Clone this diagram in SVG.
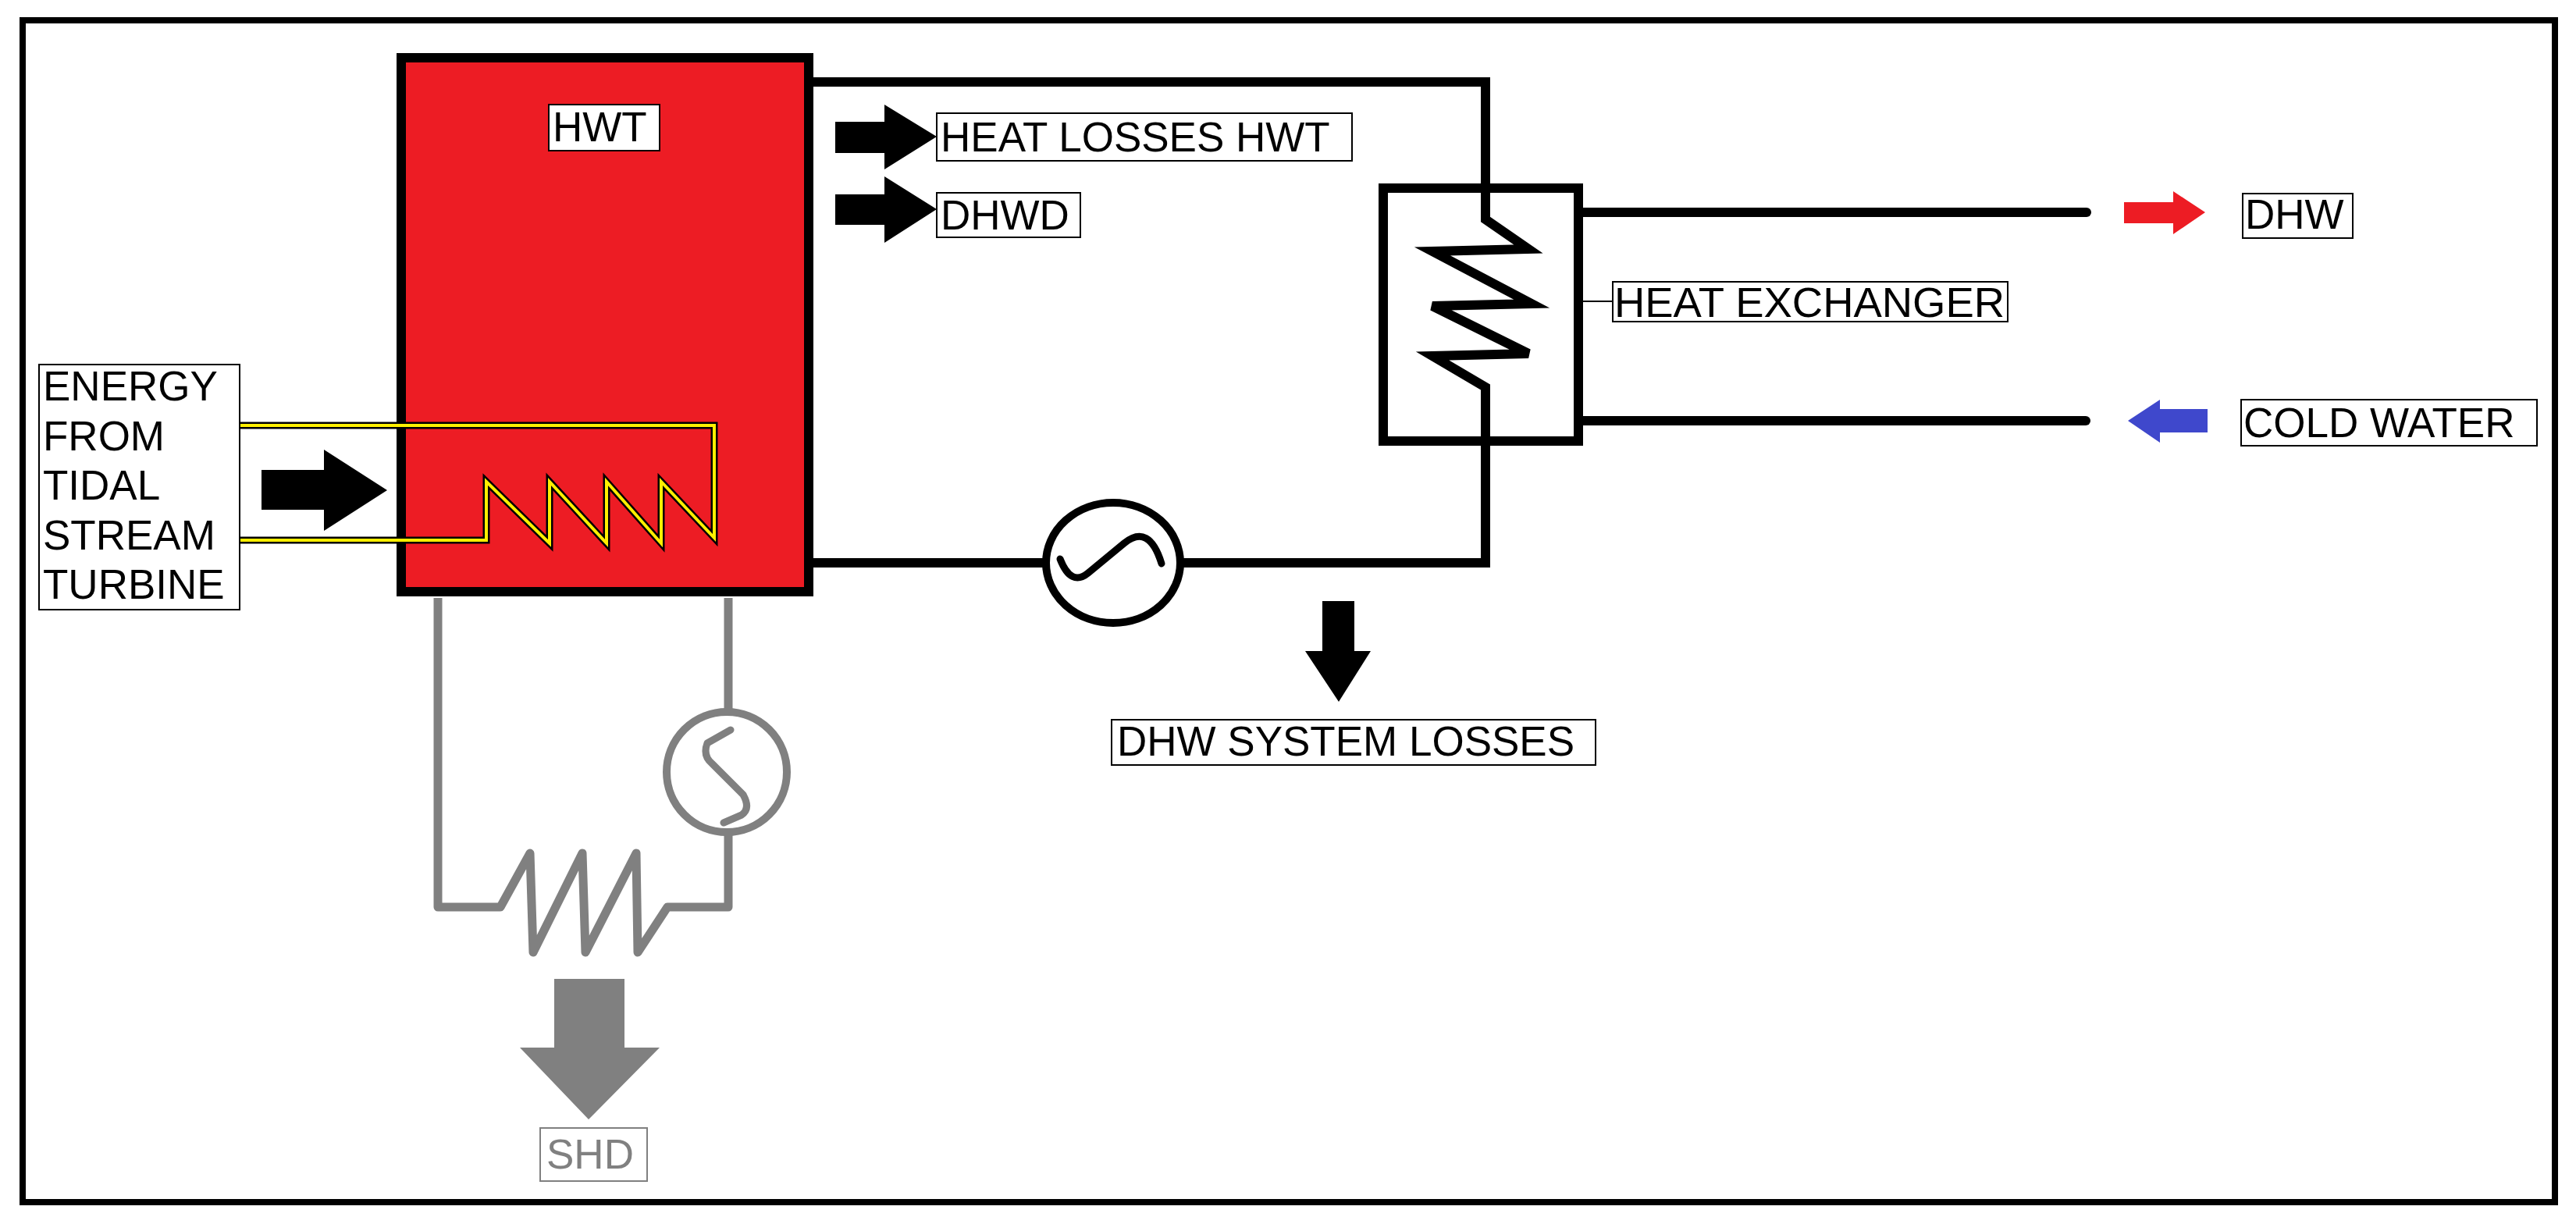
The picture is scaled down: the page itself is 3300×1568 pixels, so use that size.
<svg xmlns="http://www.w3.org/2000/svg" width="3300" height="1568" viewBox="0 0 3300 1568">
<style>
.t{font-family:"Liberation Sans",Arial,sans-serif;font-size:53px;fill:#000}
.lb{fill:#fff;stroke:#000;stroke-width:2}
.p{fill:none;stroke:#000;stroke-width:12}
.g{fill:none;stroke:#808080;stroke-width:11;stroke-linejoin:round}
</style>
<rect x="0" y="0" width="3300" height="1568" fill="#fff"/>
<rect x="29" y="26" width="3244" height="1514" fill="none" stroke="#000" stroke-width="8"/>
<g id="connectors">
<polyline class="p" points="1036,105 1903,105 1903,281 1958,319 1835,322 1962,389 1835,392 1958,453 1835,456 1903,496 1903,721 1036,721" stroke-linejoin="miter"/>
<line class="p" x1="2022" y1="272" x2="2673" y2="272" stroke-width="13" stroke-linecap="round"/>
<line class="p" x1="2022" y1="539" x2="2672" y2="539" stroke-width="13" stroke-linecap="round"/>
<line x1="2028" y1="386" x2="2066" y2="386" stroke="#000" stroke-width="2"/>
<polyline class="g" points="561,766 561,1162 641,1162 679,1093 683,1220 746,1093 750,1220 815,1093 817,1220 855,1162 933,1162 933,1068"/>
<line class="g" x1="933" y1="766" x2="933" y2="910"/>
</g>
<g id="hwt">
<rect x="514" y="74" width="522" height="684" fill="#ed1c24" stroke="#000" stroke-width="12"/>
<rect class="lb" x="703" y="134" width="142" height="59" fill="none"/>
<text class="t" x="708" y="181">HWT</text>
<polyline points="307,545 915,545 915,689 847,617 847,696 777,617 777,696 704,617 704,696 623,617 623,692 307,692" fill="none" stroke="#000" stroke-width="9"/>
<polyline points="307,545 915,545 915,689 847,617 847,696 777,617 777,696 704,617 704,696 623,617 623,692 307,692" fill="none" stroke="#ffef00" stroke-width="4"/>
</g>
<g id="energy">
<rect class="lb" x="50" y="467" width="257" height="314"/>
<text class="t" x="55" y="513">ENERGY</text>
<text class="t" x="55" y="577">FROM</text>
<text class="t" x="55" y="640">TIDAL</text>
<text class="t" x="55" y="704">STREAM</text>
<text class="t" x="55" y="767">TURBINE</text>
<polygon points="335,602 415,602 415,576 496,628 415,680 415,653 335,653" fill="#000"/>
</g>
<g id="heat-losses">
<polygon points="1070,156 1133,156 1133,134 1200,175 1133,217 1133,196 1070,196" fill="#000"/>
<rect class="lb" x="1200" y="145" width="532" height="61"/>
<text class="t" x="1205" y="194">HEAT LOSSES HWT</text>
</g>
<g id="dhwd">
<polygon points="1070,249 1133,249 1133,226 1200,268 1133,311 1133,288 1070,288" fill="#000"/>
<rect class="lb" x="1200" y="247" width="184" height="57"/>
<text class="t" x="1205" y="294">DHWD</text>
</g>
<g id="heat-exchanger">
<rect x="1772" y="241" width="250" height="324" fill="none" stroke="#000" stroke-width="12"/>
<rect class="lb" x="2066" y="361" width="506" height="51"/>
<text class="t" x="2068" y="406" textLength="500" lengthAdjust="spacingAndGlyphs">HEAT EXCHANGER</text>
</g>
<g id="pump">
<ellipse cx="1426" cy="721" rx="86" ry="77" fill="#fff" stroke="#000" stroke-width="10"/>
<path d="M1358,716 Q1372,752 1394,734 L1440,696 Q1472,670 1488,722" fill="none" stroke="#000" stroke-width="9" stroke-linecap="round"/>
</g>
<g id="dhw-system-losses">
<polygon points="1694,770 1735,770 1735,834 1756,834 1715,899 1672,834 1694,834" fill="#000"/>
<rect class="lb" x="1424" y="922" width="620" height="58"/>
<text class="t" x="1431" y="968">DHW SYSTEM LOSSES</text>
</g>
<g id="dhw">
<polygon points="2721,259 2784,259 2784,245 2825,272 2784,300 2784,286 2721,286" fill="#ed1c24"/>
<rect class="lb" x="2873" y="248" width="141" height="57"/>
<text class="t" x="2876" y="293">DHW</text>
</g>
<g id="cold-water">
<polygon points="2828,524 2767,524 2767,512 2726,539 2767,567 2767,554 2828,554" fill="#3f48cc"/>
<rect class="lb" x="2871" y="512" width="379" height="59"/>
<text class="t" x="2874" y="560">COLD WATER</text>
</g>
<g id="shd-pump">
<circle cx="931" cy="989" r="77" fill="#fff" stroke="#808080" stroke-width="10"/>
<path d="M936,935 L906,952 Q900,968 912,978 L952,1018 Q962,1036 950,1044 L927,1054" fill="none" stroke="#808080" stroke-width="9" stroke-linecap="round" stroke-linejoin="round"/>
</g>
<g id="shd">
<polygon points="710,1254 800,1254 800,1342 845,1342 754,1434 666,1342 710,1342" fill="#808080"/>
<rect x="692" y="1445" width="137" height="68" fill="#fff" stroke="#808080" stroke-width="2"/>
<text class="t" x="700" y="1497" fill="#808080" style="fill:#808080">SHD</text>
</g>
</svg>
